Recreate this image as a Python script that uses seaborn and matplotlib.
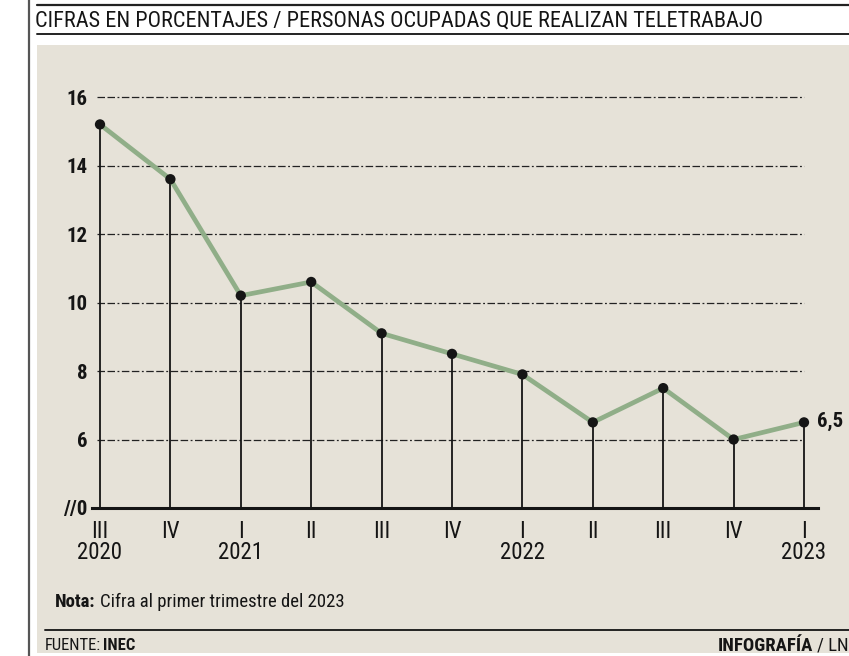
import matplotlib
matplotlib.use("Agg")
import matplotlib.pyplot as plt
import seaborn as sns
import pandas as pd
from matplotlib.patches import Rectangle
from matplotlib.lines import Line2D

# data
quarters = ['III', 'IV', 'I', 'II', 'III', 'IV', 'I', 'II', 'III', 'IV', 'I']
years = ['2020', '', '2021', '', '', '', '2022', '', '', '', '2023']
values = [15.2, 13.6, 10.2, 10.6, 9.1, 8.5, 7.9, 6.5, 7.5, 6.0, 6.5]
y_ticks = [4, 6, 8, 10, 12, 14, 16]
y_tick_labels = ['//0', '6', '8', '10', '12', '14', '16']

BEIGE = '#e6e2d8'
GREEN = '#90ae88'
INK = '#151515'

sns.set_theme(style="white")
plt.rcParams['font.family'] = ['Roboto Condensed', 'Roboto', 'DejaVu Sans']

W, H = 849, 656
fig = plt.figure(figsize=(W / 100, H / 100), dpi=100)
fig.patch.set_facecolor('white')


def fx(px):
    return px / W


def fy(py):
    return 1 - py / H


# panel background and frame lines
fig.add_artist(Rectangle((fx(37), fy(653)), fx(849 - 37), (653 - 45) / H,
                         facecolor=BEIGE, edgecolor='none', zorder=0))
fig.add_artist(Line2D([fx(29), fx(29)], [fy(0), fy(656)], color='#555555', lw=1.6))
fig.add_artist(Line2D([fx(37), fx(849)], [fy(5), fy(5)], color='#222222', lw=1.6))
fig.add_artist(Line2D([fx(37), fx(849)], [fy(34), fy(34)], color='#222222', lw=1.4))
fig.add_artist(Line2D([fx(45), fx(849)], [fy(630), fy(630)], color='#222222', lw=1.4))

fig.text(fx(35), fy(21.5), 'CIFRAS EN PORCENTAJES / PERSONAS OCUPADAS QUE REALIZAN TELETRABAJO',
         fontsize=16, color=INK, va='center', ha='left')

# main axes: x index 0..10 maps to px 100..804, y 16 at px 97, baseline at px 508
ax = fig.add_axes([fx(92), fy(508), fx(818 - 92), (508 - 85) / H])
ax.set_facecolor('none')

df = pd.DataFrame({'idx': range(len(values)), 'valor': values})

# dashed grid lines
for yv in y_ticks[1:]:
    ax.hlines(yv, -0.04, 10, colors='#222222', linewidth=0.9,
              linestyles=(0, (6, 2, 6, 2, 1.5, 2)), zorder=1)

# stems
ax.vlines(df['idx'], 4, df['valor'], colors=INK, linewidth=1.3, zorder=2)

sns.lineplot(data=df, x='idx', y='valor', ax=ax, color=GREEN, linewidth=3.4, zorder=3)
sns.scatterplot(data=df, x='idx', y='valor', ax=ax, color=INK, s=55,
                edgecolor='none', zorder=4)

ax.annotate('6,5', (df['idx'].iloc[-1], df['valor'].iloc[-1]), xytext=(9, 1),
            textcoords='offset points', fontsize=15, fontweight='bold', color=INK,
            va='center', ha='left')

ax.set_xlim(-8 / 70.4, 10 + 14 / 70.4)
ax.set_ylim(4, 16 + 12 / 34.2)

for side in ['top', 'right', 'left']:
    ax.spines[side].set_visible(False)
ax.spines['bottom'].set_color(INK)
ax.spines['bottom'].set_linewidth(2.2)

ax.set_yticks(y_ticks)
ax.set_yticklabels(y_tick_labels, fontsize=15, fontweight='bold', color=INK)
ax.tick_params(axis='y', length=0, pad=3)

ax.set_xticks(range(len(quarters)))
ax.set_xticklabels([f"{q}\n{y}" for q, y in zip(quarters, years)],
                   fontsize=16.5, color=INK, linespacing=0.88)
ax.tick_params(axis='x', length=0, pad=9)
ax.set_xlabel('')
ax.set_ylabel('')


def label_pair(x, y, first, second, size, first_bold=True, gap=4):
    # bold lead word followed by plain text, placed right after it
    t1 = fig.text(fx(x), fy(y), first, fontsize=size, color=INK, va='center',
                  fontweight='bold' if first_bold else 'normal')
    fig.canvas.draw()
    bb = t1.get_window_extent()
    fig.text(bb.x1 / W + fx(gap), fy(y), second, fontsize=size, color=INK, va='center',
             fontweight='normal' if first_bold else 'bold')


label_pair(55, 602, 'Nota:', 'Cifra al primer trimestre del 2023', 13.5)
label_pair(45, 646, 'FUENTE:', 'INEC', 12, first_bold=False, gap=2)
label_pair(718, 646, 'INFOGRAFÍA', '/ LN', 13.5)

fig.savefig('out.png', dpi=100)
